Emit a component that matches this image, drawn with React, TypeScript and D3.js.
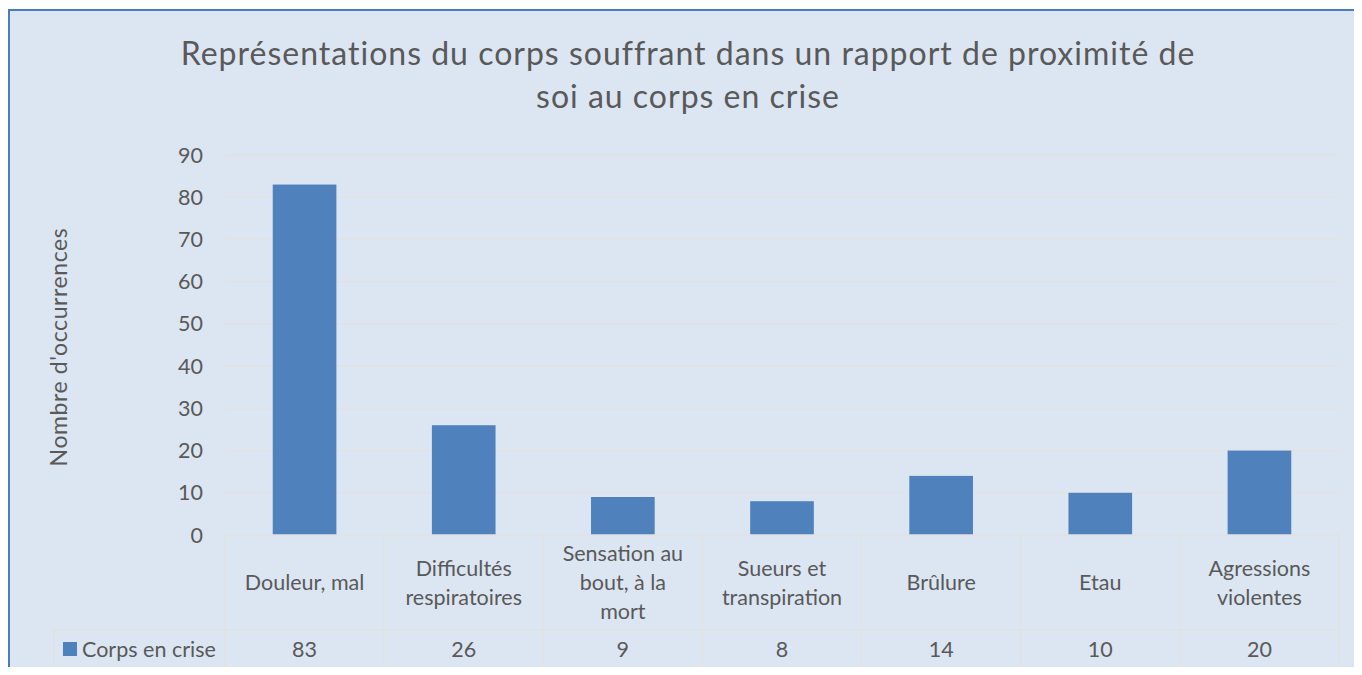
import React from "react";
import * as d3 from "d3";

const categories = [
  "Douleur, mal",
  "Difficultés respiratoires",
  "Sensation au bout, à la mort",
  "Sueurs et transpiration",
  "Brûlure",
  "Etau",
  "Agressions violentes",
];
// line breaks as shown in the table header
const categoryLines = [
  ["Douleur, mal"],
  ["Difficultés", "respiratoires"],
  ["Sensation au", "bout, à la", "mort"],
  ["Sueurs et", "transpiration"],
  ["Brûlure"],
  ["Etau"],
  ["Agressions", "violentes"],
];
const seriesName = "Corps en crise";
const values = [83, 26, 9, 8, 14, 10, 20];
const yTicks = [0, 10, 20, 30, 40, 50, 60, 70, 80, 90];

const titleLines = [
  "Représentations du corps souffrant dans un rapport de proximité de",
  "soi au corps en crise",
];

const W = 1362;
const H = 675;
const FONT = "Lato, 'Open Sans', sans-serif";
const TEXT = "#595959";
const GRID = "#e2e2e2";
const BAR = "#4f81bd";

const App: React.FC = () => {
  const left = 225;
  const right = 1339;
  const top = 155;
  const bottom = 535;
  const catRowBottom = 630;
  const valRowBottom = 668;
  const legendLeft = 54;

  const x = d3.scaleBand().domain(categories).range([left, right]).paddingInner(0).paddingOuter(0);
  const y = d3.scaleLinear().domain([0, 90]).range([bottom, top]);
  const barW = x.bandwidth() * 0.4;
  const lineH = 29;
  const fs = 21.5;

  return (
    <svg width={W} height={H} style={{ display: "block", margin: -8 }} fontFamily={FONT}>
      <rect x={0} y={0} width={W} height={H} fill="#fff" />
      <rect x={9} y={10} width={W + 20} height={H + 20} fill="#dce6f2" stroke="#4a7ebb" strokeWidth={2} />

      {titleLines.map((t, i) => (
        <text key={i} x={688} y={65 + i * 43} textAnchor="middle" fontSize={32} letterSpacing={1} fill={TEXT}>
          {t}
        </text>
      ))}

      {/* gridlines + y ticks */}
      {yTicks.map((t) => (
        <g key={t}>
          {t > 0 && <line x1={left} x2={right} y1={y(t)} y2={y(t)} stroke={GRID} strokeWidth={1.5} />}
          <text x={203} y={y(t)} dy="0.35em" textAnchor="end" fontSize={fs} fill={TEXT}>
            {t}
          </text>
        </g>
      ))}

      <text
        transform={`translate(67,347) rotate(-90)`}
        textAnchor="middle"
        fontSize={23}
        letterSpacing={0.6}
        fill={TEXT}
      >
        Nombre d'occurrences
      </text>

      {/* bars */}
      {values.map((v, i) => {
        const cx = x(categories[i])! + x.bandwidth() / 2;
        return <rect key={i} x={cx - barW / 2} y={y(v)} width={barW} height={y(0) - y(v)} fill={BAR} />;
      })}

      {/* data table */}
      <g stroke={GRID} strokeWidth={1.5} fill="none">
        <line x1={left} x2={right} y1={bottom} y2={bottom} />
        <line x1={legendLeft} x2={right} y1={catRowBottom} y2={catRowBottom} />
        <line x1={legendLeft} x2={right} y1={valRowBottom} y2={valRowBottom} />
        <line x1={legendLeft} x2={legendLeft} y1={catRowBottom} y2={valRowBottom} />
        {categories.map((c) => (
          <line key={c} x1={x(c)!} x2={x(c)!} y1={bottom} y2={valRowBottom} />
        ))}
        <line x1={right} x2={right} y1={bottom} y2={valRowBottom} />
      </g>

      {categories.map((c, i) => {
        const cx = x(c)! + x.bandwidth() / 2;
        const lines = categoryLines[i];
        const mid = (bottom + catRowBottom) / 2;
        const y0 = mid - ((lines.length - 1) * lineH) / 2;
        return (
          <g key={c}>
            {lines.map((l, j) => (
              <text key={j} x={cx} y={y0 + j * lineH} dy="0.35em" textAnchor="middle" fontSize={fs} fill={TEXT}>
                {l}
              </text>
            ))}
            <text x={cx} y={(catRowBottom + valRowBottom) / 2} dy="0.35em" textAnchor="middle" fontSize={fs} fill={TEXT}>
              {values[i]}
            </text>
          </g>
        );
      })}

      <rect x={63} y={642} width={14} height={14} fill={BAR} />
      <text x={82} y={(catRowBottom + valRowBottom) / 2} dy="0.35em" fontSize={fs} fill={TEXT}>
        {seriesName}
      </text>
    </svg>
  );
};

export default App;
